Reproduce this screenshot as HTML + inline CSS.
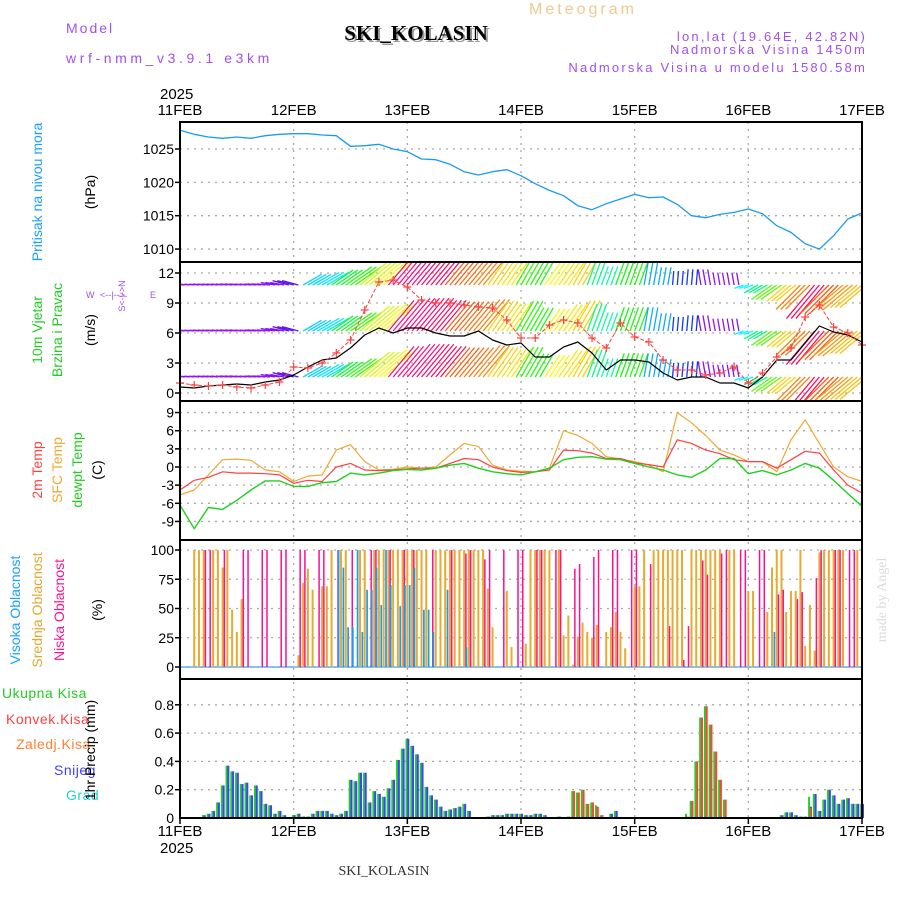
<!DOCTYPE html>
<html><head><meta charset="utf-8"><style>
body{margin:0;background:#fff}
svg{display:block;font-family:"Liberation Sans",sans-serif}
</style></head><body>
<svg id="chart" width="900" height="900" viewBox="0 0 900 900" xmlns="http://www.w3.org/2000/svg">
<defs>
<clipPath id="clipWind"><rect x="181" y="263" width="680" height="137"/></clipPath>
</defs>
<g id="header">
<text x="66" y="33" font-size="14" fill="#a050f0" letter-spacing="2">Model</text>
<text x="66" y="63" font-size="14" fill="#a050f0" letter-spacing="3.6">wrf-nmm_v3.9.1 e3km</text>
<text x="418" y="42" font-size="21" font-weight="bold" font-family="Liberation Serif,serif" fill="#999" text-anchor="middle">SKI_KOLASIN</text>
<text x="416" y="40" font-size="21" font-weight="bold" font-family="Liberation Serif,serif" fill="#000" text-anchor="middle">SKI_KOLASIN</text>
<text x="583" y="14" font-size="16" fill="#f0c890" text-anchor="middle" letter-spacing="3">Meteogram</text>
<text x="867" y="41" font-size="13" fill="#a050f0" text-anchor="end" letter-spacing="2.2">lon,lat (19.64E, 42.82N)</text>
<text x="867" y="54" font-size="13" fill="#a050f0" text-anchor="end" letter-spacing="2.2">Nadmorska Visina 1450m</text>
<text x="867" y="72" font-size="13" fill="#a050f0" text-anchor="end" letter-spacing="2.2">Nadmorska Visina u modelu 1580.58m</text>
<text x="160" y="99" font-size="15" fill="#000">2025</text>
<text x="160" y="853" font-size="15" fill="#000">2025</text>
<text x="384" y="875" font-size="14" font-family="Liberation Serif,serif" fill="#333" text-anchor="middle">SKI_KOLASIN</text>
<text transform="translate(886,600) rotate(-90)" font-size="14" font-family="Liberation Serif,serif" fill="#d8dcd8" text-anchor="middle">made by Angel</text>
</g>
<g id="labels">
<text transform="translate(42,192) rotate(-90)" font-size="14" fill="#1aa0ff" text-anchor="middle">Pritisak na nivou mora</text>
<text transform="translate(95,192) rotate(-90)" font-size="14" fill="#000" text-anchor="middle">(hPa)</text>
<text transform="translate(42,330) rotate(-90)" font-size="14" fill="#22cc22" text-anchor="middle">10m Vjetar</text>
<text transform="translate(62,330) rotate(-90)" font-size="14" fill="#22cc22" text-anchor="middle">Brzina i Pravac</text>
<text transform="translate(95,330) rotate(-90)" font-size="14" fill="#000" text-anchor="middle">(m/s)</text>
<text x="86" y="298" font-size="9" fill="#a050f0">W</text>
<text x="150" y="298" font-size="9" fill="#a050f0">E</text>
<text transform="translate(125,296) rotate(-90)" font-size="9" fill="#a050f0" text-anchor="middle">S&lt;-|-&gt;N</text>
<text x="100" y="298" font-size="9" fill="#a050f0">&lt;--|--&gt;</text>
<text transform="translate(42,470) rotate(-90)" font-size="14" fill="#ff4040" text-anchor="middle">2m Temp</text>
<text transform="translate(62,470) rotate(-90)" font-size="14" fill="#f0a830" text-anchor="middle">SFC Temp</text>
<text transform="translate(82,470) rotate(-90)" font-size="14" fill="#22cc22" text-anchor="middle">dewpt Temp</text>
<text transform="translate(102,470) rotate(-90)" font-size="14" fill="#000" text-anchor="middle">(C)</text>
<text transform="translate(20,610) rotate(-90)" font-size="14" fill="#1aa0ff" text-anchor="middle">Visoka Oblacnost</text>
<text transform="translate(42,610) rotate(-90)" font-size="14" fill="#e0a830" text-anchor="middle">Srednja Oblacnost</text>
<text transform="translate(64,610) rotate(-90)" font-size="14" fill="#ff1090" text-anchor="middle">Niska Oblacnost</text>
<text transform="translate(102,610) rotate(-90)" font-size="14" fill="#000" text-anchor="middle">(%)</text>
<text x="2" y="698" font-size="14" fill="#22cc22" letter-spacing="0.5">Ukupna Kisa</text>
<text x="6" y="724" font-size="14" fill="#ff4040" letter-spacing="0.5">Konvek.Kisa</text>
<text x="16" y="749" font-size="14" fill="#ff8030" letter-spacing="0.5">Zaledj.Kisa</text>
<text x="54" y="775" font-size="14" fill="#4040ff" letter-spacing="0.5">Snijeg</text>
<text x="66" y="800" font-size="14" fill="#20d0d0" letter-spacing="0.5">Grad</text>
<text transform="translate(95,750) rotate(-90)" font-size="14" fill="#000" text-anchor="middle">1hr Precip (mm)</text>
</g>
<g id="plot"></g>
</svg>
<script>
// ---- data ----
const dayLabels = ["11FEB","12FEB","13FEB","14FEB","15FEB","16FEB","17FEB"];
const pressure = [1027.8,1027.2,1026.8,1026.6,1026.8,1026.6,1027.0,1027.2,1027.3,1027.3,1027.1,1027.0,1025.4,1025.5,1025.7,1025.0,1024.6,1023.5,1023.4,1022.7,1021.6,1021.1,1021.6,1021.9,1021.0,1019.8,1018.8,1018.0,1016.5,1015.9,1016.8,1017.5,1018.2,1017.7,1017.8,1016.7,1015.0,1014.7,1015.2,1015.5,1016.0,1015.3,1013.5,1012.5,1010.8,1010.0,1012.0,1014.5,1015.4];
const pressureTicks = [1010,1015,1020,1025];
const windSpeed = [0.6,0.5,0.7,0.8,0.9,0.8,1.1,1.3,1.8,2.6,3.3,3.5,4.5,5.8,6.5,6.0,6.5,6.5,6.0,5.7,5.7,6.2,5.3,4.8,5.0,3.6,3.6,4.6,5.1,4.0,2.3,3.3,3.3,3.1,2.0,1.3,1.6,1.6,1.0,1.0,0.5,1.6,3.3,3.3,5.0,6.7,6.1,5.8,5.1];
const windGust = [1.0,0.8,0.7,0.8,0.6,0.5,0.8,1.1,2.6,2.5,3.0,4.0,5.3,8.3,11.1,11.3,10.6,9.3,9.0,9.0,8.8,8.6,8.5,7.3,5.5,5.5,6.8,7.3,7.0,5.5,4.5,7.0,5.6,5.1,3.3,2.3,2.3,1.8,2.0,2.6,1.0,2.0,3.6,4.5,7.6,8.8,6.6,6.0,4.8];
const windAngle = [175,175,175,175,175,175,175,170,165,30,30,35,35,40,40,50,50,50,50,50,50,50,55,55,60,60,55,55,60,70,70,70,70,80,80,85,85,100,100,100,200,210,215,220,225,230,225,220,220];
const windHue = [275,275,275,275,275,275,275,270,260,190,185,130,110,70,60,330,330,335,340,20,25,30,50,55,110,115,60,55,50,150,160,120,115,200,200,230,230,270,275,270,180,150,100,50,30,340,20,35,45];
const windTicks = [0,3,6,9,12];
const temp2m = [-3.8,-2.2,-1.7,-0.8,-1.0,-1.0,-1.1,-1.3,-2.7,-2.2,-2.4,0,0.6,-0.5,-0.6,-0.5,-0.3,-0.2,-0.2,0.6,1.4,1.2,0,-0.6,-0.9,-0.8,-0.5,2.8,2.7,2.3,1.4,1.4,0.7,0.4,0,4.5,3.9,2.8,2.2,1.2,0.9,0.9,-0.2,1.2,2.6,2.3,-0.5,-3.0,-4.3];
const tempSfc = [-4.6,-3.8,-1.3,1.2,1.3,1.1,-0.5,-0.8,-2.4,-1.5,-1.3,2.8,3.7,0.9,-0.5,-0.4,0,-0.2,0,2.0,3.9,3.4,0.3,-0.5,-0.7,-0.8,-0.2,6.0,5.2,3.9,1.7,1.3,0.9,0.3,-0.8,9.0,7.3,5.2,2.8,2.0,0.9,0.9,-0.8,4.5,7.8,3.9,0,-1.6,-2.4];
const tempDew = [-6.3,-10.2,-6.7,-7.0,-5.5,-3.8,-2.3,-2.3,-3.2,-3.2,-2.6,-2.4,-1.0,-1.3,-1.0,-0.6,-0.4,-0.5,-0.2,0.3,0.6,-0.2,-0.8,-1.1,-1.3,-0.8,-0.2,1.2,1.6,1.7,1.3,1.2,0.6,0,-0.5,-1.3,-1.7,-0.5,1.4,1.4,-1.1,-0.6,-1.3,-0.5,0.6,-0.2,-2.2,-4.4,-6.5];
const tempTicks = [-9,-6,-3,0,3,6,9];
const lowCloudHours = [5,6,9,13,14,17,18,21,22,25,26,29,30,33,36,40,41,44,47,49,53,57,60,61,64,65,68,71,72,75,76,79,80,83,84,87,88,91,92,95,96,99,103,106,107,110,111,114,115,118,119,122,123,126,127,130,131,134,135,138,139,141,142];
const lowCloud = [100,100,100,100,100,100,100,100,100,100,100,100,100,100,100,100,100,100,100,100,100,100,97,100,92,100,100,100,100,100,100,100,100,84,88,94,100,100,100,100,100,88,35,6,35,91,79,97,100,100,100,100,100,62,66,58,64,76,100,100,100,100,100];
const midCloudHours = [3,4,5,7,8,9,10,11,12,13,25,26,27,28,30,31,32,34,35,38,39,41,42,43,44,45,46,47,48,49,50,51,52,54,55,56,57,58,59,60,61,62,63,64,65,66,69,70,73,74,75,76,77,78,80,81,82,83,84,85,86,87,88,90,91,92,93,94,96,97,98,100,101,102,103,104,105,106,108,109,110,111,112,113,114,116,117,120,121,124,125,126,127,128,129,130,131,132,133,134,135,136,137,138,139,140,143];
const midCloud = [100,100,100,100,100,85,100,49,30,58,10,72,84,66,69,69,100,100,100,100,100,100,100,100,100,100,100,100,100,100,100,100,100,100,100,100,100,100,100,100,100,100,100,100,67,34,65,17,20,100,100,100,100,100,100,27,44,2,26,38,30,25,36,30,34,47,30,16,69,69,100,100,100,100,100,100,100,100,100,100,100,100,100,100,100,100,100,65,65,47,85,100,100,47,65,65,100,18,53,14,98,100,100,100,100,100,100,75];
const highCloudHours = [33,34,35,36,37,38,39,40,41,42,43,44,46,47,48,49,51,52,53,56,60,125];
const highCloud = [100,85,34,34,100,30,66,66,85,53,100,70,52,70,70,85,49,49,30,66,17,30];
const cloudTicks = [0,25,50,75,100];
const precipHours = [5,6,7,8,9,10,11,12,13,14,15,16,17,18,19,20,21,22,24,25,26,27,28,29,30,31,32,33,34,35,36,37,38,39,40,41,42,43,44,45,46,47,48,49,50,51,52,53,54,55,56,57,58,59,60,61,65,66,67,68,69,70,71,72,73,74,75,76,77,80,82,83,84,85,86,87,88,89,91,92,107,108,109,110,111,112,113,114,115,127,128,129,130,131,132,133,134,135,136,137,138,139,140,141,142,143,144];
const precipTotal = [.02,.03,.05,.11,.23,.37,.33,.32,.24,.25,.16,.23,.19,.10,.09,.03,.05,.02,.02,.03,.01,.01,.03,.05,.05,.05,.03,.02,.03,.05,.27,.26,.32,.32,.11,.19,.17,.15,.21,.27,.41,.49,.56,.51,.45,.39,.22,.16,.13,.08,.05,.06,.07,.08,.10,.05,.01,.02,.02,.02,.03,.03,.03,.03,.02,.02,.03,.03,.02,.01,.01,.19,.18,.20,.10,.11,.09,.02,.03,.05,.03,.12,.40,.71,.79,.66,.47,.27,.13,.02,.04,.04,.02,.01,.01,.15,.17,.05,.13,.20,.16,.10,.13,.14,.10,.10,.10];
const precipSnow = [.02,.03,.05,.11,.23,.37,.33,.32,.24,.25,.16,.23,.19,.10,.09,.03,.05,.02,.02,.03,.01,.01,.03,.05,.05,.05,.03,.02,.03,.05,.27,.26,.32,.32,.11,.19,.17,.15,.21,.27,.41,.49,.56,.51,.45,.39,.22,.16,.13,.08,.05,.06,.07,.08,.10,.05,.01,.02,.02,.02,.03,.03,.03,.03,.02,.02,.03,.03,.02,.01,0,0,0,0,0,0,0,0,.03,.05,0,0,0,0,0,0,0,0,0,.02,.04,.04,.02,.01,.01,.08,.17,.05,.13,.20,.16,.10,.13,.14,.10,.10,.10];
const precipConv = [0,0,0,0,0,0,0,0,0,0,0,0,0,0,0,0,0,0,0,0,0,0,0,0,0,0,0,0,0,0,0,0,0,0,0,0,0,0,0,0,0,0,0,0,0,0,0,0,0,0,0,0,0,0,0,0,0,0,0,0,0,0,0,0,0,0,0,0,0,0,.01,.19,.18,.20,.10,.11,.08,.02,0,0,.01,.12,.40,.71,.79,.66,.47,.27,.13,0,0,0,0,0,0,.07,0,0,0,0,0,0,0,0,0,0,0];
const precipTicks = [0.2,0.4,0.6,0.8];

// ---- scales ----
const X0 = 180, X1 = 862, HOURS = 144;
function xh(h){ return X0 + h*(X1-X0)/HOURS; }
function x3(i){ return xh(i*3); }
function yP(v){ return 149 + (1025-v)*6.67; }
function yW(v){ return 393 - v*10; }
function yT(v){ return 467 - v*6.05; }
function yC(v){ return 667 - v*1.17; }
function yR(v){ return 818 - v*141.5; }
const NS = "http://www.w3.org/2000/svg";
const plot = document.getElementById('plot');
function mk(tag, attrs, parent){
  const e = document.createElementNS(NS, tag);
  for (const k in attrs) e.setAttribute(k, attrs[k]);
  (parent||plot).appendChild(e);
  return e;
}
const panels = [[122,262],[262,401],[401,540],[540,679],[679,818]];
const gGrid = mk('g',{});


dayLabels.forEach((d,i)=>{
  if(i===0||i===6) return;
  const x = xh(i*24);
  const ln = mk('line',{x1:x,x2:x,y1:122,y2:818,stroke:'#aaa','stroke-dasharray':'2,5','stroke-width':1.3},gGrid);
  
  
});
function hgrid(ticks, yf, panelName, fmt){
  ticks.forEach(t=>{
    const y = yf(t);
    const ln = mk('line',{x1:X0,x2:X1,y1:y,y2:y,stroke:'#aaa','stroke-dasharray':'2,5','stroke-width':1.3},gGrid);
    
    
    const tk = mk('line',{x1:X0-5,x2:X0,y1:y,y2:y,stroke:'#000','stroke-width':1.5},gGrid);
    
    
    const tx = mk('text',{x:X0-6,y:y+5,'font-size':14,'text-anchor':'end',fill:'#000'},gGrid);
    tx.textContent = fmt ? fmt(t) : t;
    
    
  });
}
hgrid(pressureTicks, yP, 'pressure');
hgrid(windTicks, yW, 'wind');
hgrid(tempTicks, yT, 'temp');
hgrid(cloudTicks, yC, 'cloud');
hgrid(precipTicks, yR, 'precip', t=>t.toFixed(1));
const zt = mk('text',{x:X0-6,y:yR(0)+5,'font-size':14,'text-anchor':'end',fill:'#000'},gGrid);
zt.textContent='0';



dayLabels.forEach((d,i)=>{
  const x = xh(i*24);
  const t1 = mk('text',{x:x,y:115,'font-size':15,'text-anchor':'middle',fill:'#000'});
  t1.textContent = d;
  
  
  const t2 = mk('text',{x:x,y:836,'font-size':15,'text-anchor':'middle',fill:'#000'});
  t2.textContent = d;
  
  
  const tk = mk('line',{x1:x,x2:x,y1:818,y2:824,stroke:'#000','stroke-width':1.5});
  
  
});

function poly(arr, yf, color, w, name){
  const pts = arr.map((v,i)=>x3(i).toFixed(1)+','+yf(v).toFixed(1)).join(' ');
  const p = mk('polyline',{points:pts,fill:'none',stroke:color,'stroke-width':w,'stroke-linejoin':'round'});
  
  
  return p;
}
poly(pressure, yP, '#1a9cf0', 1.3, 'pressure-line');

const gW = mk('g',{'clip-path':'url(#clipWind)'});


const rows = [285,331,377];
rows.forEach(by=>{
  windSpeed.forEach((s,i)=>{
    const a = windAngle[i]*Math.PI/180;
    const L = 7 + s*5.5;
    const col = 'hsl('+windHue[i]+',95%,52%)';
    for (let k=-1;k<=1;k++){
      const x0 = x3(i)+k*4.74;
      const x1 = x0 + L*Math.cos(a), y1 = by - L*Math.sin(a);
      const ln = mk('line',{x1:x0,y1:by,x2:x1,y2:y1,stroke:col,'stroke-width':1.3},gW);
      
      
    }
  });
});
poly(windSpeed, yW, '#000', 1.2, 'wind-speed-line');
const gust = poly(windGust, yW, '#ff4040', 1, 'wind-gust-line');
gust.setAttribute('stroke-dasharray','4,2');
windGust.forEach((v,i)=>{
  const x=x3(i), y=yW(v);
  const m = mk('path',{d:`M${x-4},${y}H${x+4}M${x},${y-4}V${y+4}`,stroke:'#ff4040','stroke-width':1.2});
  
  
});

poly(tempSfc, yT, '#f0a830', 1.2, 'sfc-temp-line');
poly(temp2m, yT, '#ff4040', 1.2, '2m-temp-line');
poly(tempDew, yT, '#20d020', 1.4, 'dewpt-line');

const base = mk('line',{x1:X0,x2:X1,y1:yC(0),y2:yC(0),stroke:'#3aa0ff','stroke-width':1.2});


function cloudBars(hours, vals, color, dx, w, name){
  hours.forEach((h,i)=>{
    const y = yC(vals[i]);
    const r = mk('rect',{x:xh(h)+dx,y:y,width:w,height:yC(0)-y,fill:color});
    
    
  });
}
cloudBars(midCloudHours, midCloud, '#e8aa30', -1, 2, 'mid-cloud-bar');
cloudBars(lowCloudHours, lowCloud, '#ff1090', 1, 1.5, 'low-cloud-bar');
cloudBars(highCloudHours, highCloud, '#1a9cf0', 1.5, 1.7, 'high-cloud-bar');

precipHours.forEach((h,i)=>{
  const x = xh(h);
  const yt = yR(precipTotal[i]);
  const g = mk('rect',{x:x-1.8,y:yt,width:2,height:818-yt,fill:'#20d020'});
  
  
  if (precipSnow[i]>0){
    const ys = yR(precipSnow[i]);
    const b = mk('rect',{x:x,y:ys,width:2,height:818-ys,fill:'#4040ff'});
    
    
  }
  if (precipConv[i]>0){
    const yc = yR(precipConv[i]);
    const c = mk('rect',{x:x,y:yc,width:2,height:818-yc,fill:'#ff4040'});
    
    
  }
});

panels.forEach((p,i)=>{
  const r = mk('rect',{x:X0,y:p[0],width:X1-X0,height:p[1]-p[0],fill:'none',stroke:'#000','stroke-width':2});
  
  
});
</script>
</body></html>
